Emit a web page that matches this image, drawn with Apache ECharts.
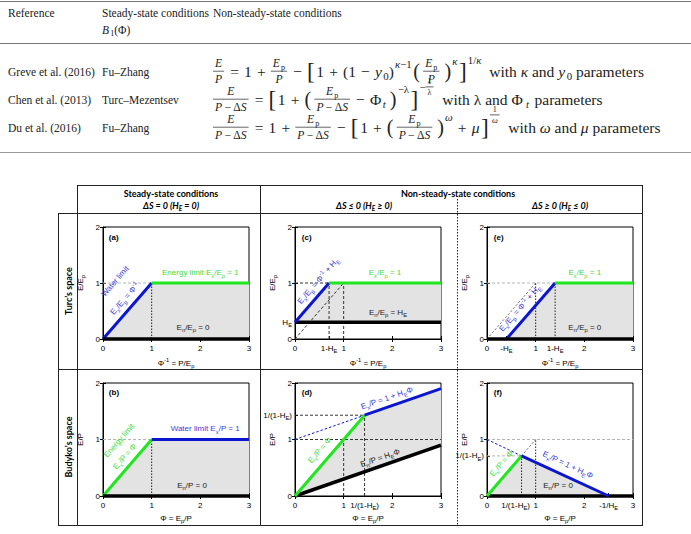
<!DOCTYPE html>
<html><head><meta charset="utf-8">
<script src="https://cdn.jsdelivr.net/npm/echarts@6/dist/echarts.min.js"></script>
<style>html,body{margin:0;padding:0;background:#fff}#c{width:691px;height:534px}</style>
</head><body><div id="c"></div>
<script>
// ================= DATA =================
const tableHeaders = ['Reference', 'Steady-state conditions', 'Non-steady-state conditions'];
const tableRefs = ['Greve et al. (2016)', 'Chen et al. (2013)', 'Du et al. (2016)'];
const tableSteady = ['Fu–Zhang', 'Turc–Mezentsev', 'Fu–Zhang'];
const colHeaders = ['Steady-state conditions', 'Non-steady-state conditions'];
const subHeaders = ['ΔS = 0 (H_E = 0)', 'ΔS ≤ 0 (H_E ≥ 0)', 'ΔS ≥ 0 (H_E ≤ 0)'];
const rowLabels = ['Turc’s space', 'Budyko’s space'];

// panel (a)  Turc space, steady state
const aFill = [[0,0],[1,1],[3,1],[3,0]];
const aWater = [[0,0],[1,1]];
const aEnergy = [[1,1],[3,1]];
const aNone = [[0,0],[3,0]];
const aGuideH = [[0,1],[1,1]];
const aGuideV = [[1,0],[1,1]];
const aXTicks = [0,1,2,3];     const aXLabels = ['0','1','2','3'];
const aYTicks = [0,1,2];       const aYLabels = ['0','1','2'];

// panel (c)  Turc space, HE >= 0 (HE = 0.3)
const cFill = [[0,0.3],[0.7,1],[3,1],[3,0.3]];
const cWater = [[0,0.3],[0.7,1]];
const cEnergy = [[0.7,1],[3,1]];
const cNone = [[0,0.3],[3,0.3]];
const cDiag = [[0,0],[1,1]];
const cGuideH = [[0,1],[0.7,1]];
const cGuideV1 = [[0.7,0],[0.7,1]];
const cGuideV2 = [[1,0],[1,1]];
const cXTicks = [0,0.7,1,2,3]; const cXLabels = ['0','1-H_E','1','2','3'];
const cYTicks = [0,0.3,1,2];   const cYLabels = ['0','H_E','1','2'];

// panel (e)  Turc space, HE <= 0 (HE = -0.4)
const eFill = [[0.4,0],[1.4,1],[3,1],[3,0]];
const eWater = [[0.4,0],[1.4,1]];
const eEnergy = [[1.4,1],[3,1]];
const eNone = [[0,0],[3,0]];
const eDiag = [[0,0],[1,1]];
const eGuideH = [[0,1],[1.4,1]];
const eGuideV1 = [[1,0],[1,1]];
const eGuideV2 = [[1.4,0],[1.4,1]];
const eXTicks = [0,0.4,1,1.4,2,3]; const eXLabels = ['0','-H_E','1','1-H_E','2','3'];
const eYTicks = [0,1,2];       const eYLabels = ['0','1','2'];

// panel (b)  Budyko space, steady state
const bFill = [[0,0],[1,1],[3,1],[3,0]];
const bEnergy = [[0,0],[1,1]];
const bWater = [[1,1],[3,1]];
const bNone = [[0,0],[3,0]];
const bGuideH = [[0,1],[1,1]];
const bGuideV = [[1,0],[1,1]];
const bXTicks = [0,1,2,3];     const bXLabels = ['0','1','2','3'];
const bYTicks = [0,1,2];       const bYLabels = ['0','1','2'];

// panel (d)  Budyko space, HE >= 0 (HE = 0.3)
const dFill = [[0,0],[1.43,1.43],[3,1.9],[3,0.9]];
const dEnergy = [[0,0],[1.43,1.43]];
const dWater = [[1.43,1.43],[3,1.9]];
const dNone = [[0,0],[3,0.9]];
const dWaterExt = [[0,1],[1.43,1.43]];
const dGuideH1 = [[0,1.43],[1.43,1.43]];
const dGuideH2 = [[0,1],[3,1]];
const dGuideV1 = [[1,0],[1,1]];
const dGuideV2 = [[1.43,0],[1.43,1.43]];
const dXTicks = [0,1,1.43,2,3]; const dXLabels = ['0','1','1/(1-H_E)','2','3'];
const dYTicks = [0,1,1.43,2];   const dYLabels = ['0','1','1/(1-H_E)','2'];

// panel (f)  Budyko space, HE <= 0 (HE = -0.4)
const fFill = [[0,0],[0.71,0.71],[2.5,0]];
const fEnergy = [[0,0],[0.71,0.71]];
const fWater = [[0.71,0.71],[2.5,0]];
const fNone = [[0,0],[3,0]];
const fWaterExt = [[0,1],[0.71,0.71]];
const fDiag = [[0.71,0.71],[1,1]];
const fGuideH1 = [[0,1],[3,1]];
const fGuideH2 = [[0,0.71],[0.71,0.71]];
const fGuideV1 = [[0.71,0],[0.71,0.71]];
const fGuideV2 = [[1,0],[1,1]];
const fXTicks = [0,0.71,1,2,2.5,3]; const fXLabels = ['0','1/(1-H_E)','1','2','-1/H_E','3'];
const fYTicks = [0,0.71,1,2];       const fYLabels = ['0','1/(1-H_E)','1','2'];

// ================= STYLE / HELPERS =================
const SANS = '"Liberation Sans", Arial, sans-serif';
const SERIF = '"Liberation Serif", "Times New Roman", serif';
const LATO = 'Lato, "Liberation Sans", sans-serif';
const BLUE = '#0c16cf', GREEN = '#1fe61f', BLUE_T = '#3c3cd8', GREEN_T = '#3ddc3d', FILL = '#e3e3e3';
const TXT = '#222';

function mk(s){
  let out = '', i = 0, buf = '';
  const flush = () => { if (buf) { out += '{n|' + buf + '}'; buf = ''; } };
  while (i < s.length) {
    const c = s[i];
    if (c === '_' || c === '^') {
      flush();
      const tag = c === '_' ? 'b' : 'p';
      let g;
      if (s[i+1] === '{') { const j = s.indexOf('}', i+2); g = s.slice(i+2, j); i = j+1; }
      else { g = s[i+1]; i += 2; }
      out += '{' + tag + '|' + g + '}';
    } else { buf += c; i++; }
  }
  flush();
  return out;
}
function richSet(fs, col, extra, fam){
  extra = extra || {}; fam = fam || SANS;
  const lh = Math.round(fs*1.45), sfs = Math.round(fs*0.72*10)/10;
  return {
    n: Object.assign({fontSize: fs, lineHeight: lh, color: col, fontFamily: fam}, extra),
    b: Object.assign({fontSize: sfs, lineHeight: sfs, verticalAlign: 'bottom', color: col, fontFamily: fam}, extra),
    p: Object.assign({fontSize: sfs, lineHeight: sfs, verticalAlign: 'top', color: col, fontFamily: fam}, extra),
    sp: {width: 12, height: 1}
  };
}
function lab(ticks, labels, v){
  for (let k = 0; k < ticks.length; k++) if (Math.abs(ticks[k]-v) < 1e-6) return labels[k];
  return '';
}

const LS = {
  blue:  {color: BLUE, width: 3},
  green: {color: GREEN, width: 3},
  black: {color: '#000', width: 3.5},
  dotK:  {color: '#222', width: 1, type: [1.5, 1.5]},
  dashK: {color: '#333', width: 1, type: [3, 2]},
  dashL: {color: '#b5b5b5', width: 1, type: [3, 2]},
  dashB: {color: BLUE, width: 1, type: [2.5, 2]},
  dotG:  {color: '#666', width: 1, type: [2, 2]}
};

const GW = 146;
const panels = [
  {grid: [103, 227, GW, 112], xT: aXTicks, xL: aXLabels, yT: aYTicks, yL: aYLabels,
   xName: 'Φ^{-1} = P/E_p', yName: 'E/E_p', fill: aFill,
   lines: [[aGuideH,'dashL'],[aGuideV,'dotK'],[aWater,'blue'],[aEnergy,'green'],[aNone,'black']],
   ann: [{x:0.12,y:1.82,t:'(a)',c:'#000',al:'left',bold:true},
         {x:0.25,y:1.03,t:'Water limit',c:BLUE_T,r:49},
         {x:0.45,y:0.72,t:'E_x/E_p = Φ^{-1}',c:BLUE_T,r:49},
         {x:2.0,y:1.18,t:'Energy limit E_x/E_p = 1',c:GREEN_T},
         {x:1.85,y:0.21,t:'E_n/E_p = 0',c:TXT}]},
  {grid: [295, 227, GW, 112], xT: cXTicks, xL: cXLabels, yT: cYTicks, yL: cYLabels,
   xName: 'Φ^{-1} = P/E_p', yName: 'E/E_p', fill: cFill,
   lines: [[cDiag,'dashK'],[cGuideH,'dashK'],[cGuideV1,'dashK'],[cGuideV2,'dashK'],[cNone,'black'],[cWater,'blue'],[cEnergy,'green']],
   ann: [{x:0.14,y:1.82,t:'(c)',c:'#000',al:'left',bold:true},
         {x:0.48,y:1.04,t:'E_x/E_p = Φ^{-1} + H_E',c:BLUE_T,r:49},
         {x:1.85,y:1.18,t:'E_x/E_p = 1',c:GREEN_T},
         {x:1.91,y:0.48,t:'E_n/E_p = H_E',c:TXT}]},
  {grid: [487, 227, GW, 112], xT: eXTicks, xL: eXLabels, yT: eYTicks, yL: eYLabels,
   xName: 'Φ^{-1} = P/E_p', yName: 'E/E_p', fill: eFill,
   lines: [[eDiag,'dotG'],[eGuideH,'dashL'],[eGuideV1,'dotK'],[eGuideV2,'dotK'],[eWater,'blue'],[eEnergy,'green'],[eNone,'black']],
   ann: [{x:0.14,y:1.82,t:'(e)',c:'#000',al:'left',bold:true},
         {x:0.68,y:0.55,t:'E_x/E_p = Φ^{-1} + H_E',c:BLUE_T,r:49},
         {x:2.01,y:1.18,t:'E_x/E_p = 1',c:GREEN_T},
         {x:2.01,y:0.21,t:'E_n/E_p = 0',c:TXT}]},
  {grid: [103, 383, GW, 113], xT: bXTicks, xL: bXLabels, yT: bYTicks, yL: bYLabels,
   xName: 'Φ = E_p/P', yName: 'E/P', fill: bFill,
   lines: [[bGuideH,'dashL'],[bGuideV,'dotK'],[bEnergy,'green'],[bWater,'blue'],[bNone,'black']],
   ann: [{x:0.12,y:1.84,t:'(b)',c:'#000',al:'left',bold:true},
         {x:0.33,y:0.98,t:'Energy limit',c:GREEN_T,r:49},
         {x:0.45,y:0.70,t:'E_x/P = Φ',c:GREEN_T,r:49},
         {x:2.1,y:1.19,t:'Water limit E_x/P = 1',c:BLUE_T},
         {x:1.83,y:0.19,t:'E_n/P = 0',c:TXT}]},
  {grid: [295, 383, GW, 113], xT: dXTicks, xL: dXLabels, yT: dYTicks, yL: dYLabels,
   xName: 'Φ = E_p/P', yName: 'E/P', fill: dFill,
   lines: [[dGuideH1,'dashK'],[dGuideH2,'dashK'],[dGuideV1,'dashK'],[dGuideV2,'dashK'],[dWaterExt,'dashB'],[dNone,'black'],[dEnergy,'green'],[dWater,'blue']],
   ann: [{x:0.14,y:1.84,t:'(d)',c:'#000',al:'left',bold:true},
         {x:1.89,y:1.73,t:'E_x/P = 1 + H_EΦ',c:BLUE_T,r:19},
         {x:0.51,y:0.81,t:'E_x/P = Φ',c:GREEN_T,r:49},
         {x:1.75,y:0.67,t:'E_n/P = H_EΦ',c:TXT,r:19}]},
  {grid: [487, 383, GW, 113], xT: fXTicks, xL: fXLabels, yT: fYTicks, yL: fYLabels, xPad: [0.71],
   xName: 'Φ = E_p/P', yName: 'E/P', fill: fFill,
   lines: [[fGuideH1,'dashL'],[fGuideH2,'dashL'],[fDiag,'dotG'],[fGuideV1,'dotK'],[fGuideV2,'dotK'],[fWaterExt,'dashB'],[fNone,'black'],[fEnergy,'green'],[fWater,'blue']],
   ann: [{x:0.14,y:1.84,t:'(f)',c:'#000',al:'left',bold:true},
         {x:0.30,y:0.575,t:'E_x/P = Φ',c:GREEN_T,r:49},
         {x:1.66,y:0.55,t:'E_x/P = 1 + H_EΦ',c:BLUE_T,r:-25},
         {x:1.46,y:0.19,t:'E_n/P = 0',c:TXT}]}
];

// ================= BUILD CHART =================
const grid = [], xAxis = [], yAxis = [], series = [];
panels.forEach((P, i) => {
  const [l, t, w, h] = P.grid;
  grid.push({left: l, top: t, width: w, height: h, show: true, borderColor: '#000', borderWidth: 1,
    backgroundColor: 'transparent', containLabel: false, outerBoundsMode: 'none'});
  const bottomRow = t > 300;
  const rs = richSet(8, '#000');
  const pads = P.xPad || [];
  xAxis.push({gridIndex: i, type: 'value', min: 0, max: 3, interval: 1, position: 'bottom',
    name: mk(P.xName), nameLocation: 'middle', nameGap: bottomRow ? 16 : 18, nameMoveOverlap: false,
    nameTextStyle: {fontSize: 8, fontFamily: SANS, color: '#000', rich: rs},
    axisLine: {show: true, onZero: false, lineStyle: {color: '#000', width: 1}},
    axisTick: {show: true, inside: true, length: 3, customValues: P.xT, lineStyle: {color: '#000'}},
    axisLabel: {show: true, customValues: P.xT,
      formatter: v => mk(lab(P.xT, P.xL, v)) + (pads.some(q => Math.abs(q - v) < 1e-6) ? '{sp|}' : ''),
      margin: 3, fontSize: 8, color: '#000', fontFamily: SANS, rich: rs, hideOverlap: false},
    splitLine: {show: false}});
  xAxis.push({gridIndex: i, type: 'value', min: 0, max: 3, interval: 1, position: 'top',
    axisLine: {show: false}, axisTick: {show: true, inside: true, length: 3, lineStyle: {color: '#000'}},
    axisLabel: {show: false}, splitLine: {show: false}});
  yAxis.push({gridIndex: i, type: 'value', min: 0, max: 2, interval: 1, position: 'left',
    name: mk(P.yName), nameLocation: 'middle', nameGap: 17, nameRotate: 90, nameMoveOverlap: false,
    nameTextStyle: {fontSize: 8, fontFamily: SANS, color: '#000', rich: rs},
    axisLine: {show: true, onZero: false, lineStyle: {color: '#000', width: 1}},
    axisTick: {show: true, inside: true, length: 3, customValues: P.yT, lineStyle: {color: '#000'}},
    axisLabel: {show: true, customValues: P.yT, formatter: v => mk(lab(P.yT, P.yL, v)), margin: 3,
      fontSize: 8, color: '#000', fontFamily: SANS, rich: rs, hideOverlap: false},
    splitLine: {show: false}});
  yAxis.push({gridIndex: i, type: 'value', min: 0, max: 2, interval: 1, position: 'right',
    axisLine: {show: false}, axisTick: {show: true, inside: true, length: 3, lineStyle: {color: '#000'}},
    axisLabel: {show: false}, splitLine: {show: false}});
  const ax = 2*i;
  const poly = P.fill;
  series.push({type: 'custom', xAxisIndex: ax, yAxisIndex: ax, silent: true, animation: false, z: 1,
    data: [poly[0]],
    renderItem: (p, api) => ({type: 'polygon', shape: {points: poly.map(q => api.coord(q))},
      style: {fill: FILL}})});
  P.lines.forEach(([d, s]) => {
    const st = LS[s];
    series.push({type: 'line', xAxisIndex: ax, yAxisIndex: ax, data: d, symbol: 'none', showSymbol: false,
      clip: false, silent: true, animation: false, z: (s === 'blue' || s === 'green' || s === 'black') ? 4 : 3,
      lineStyle: {color: st.color, width: st.width, type: st.type || 'solid', cap: 'butt'}});
  });
  const anns = P.ann;
  series.push({type: 'custom', xAxisIndex: ax, yAxisIndex: ax, silent: true, animation: false, z: 10, clip: false,
    data: anns.map(a => [a.x, a.y]),
    renderItem: (p, api) => {
      const a = anns[p.dataIndex];
      const pt = api.coord([a.x, a.y]);
      const fw = a.bold ? 'bold' : 'normal';
      return {type: 'text', x: pt[0], y: pt[1], rotation: (a.r || 0) * Math.PI / 180,
        style: {text: mk(a.t), rich: richSet(8, a.c, {fontWeight: fw}), fill: a.c,
          font: fw + ' 8px ' + SANS, align: a.al || 'center', verticalAlign: 'middle'}};
    }});
});

// ================= TABLE (formula layout) =================
const FS = 11.5;    // plain table text
const FM = 15.5;    // formula rows
const measCtx = document.createElement('canvas').getContext('2d');
function tw(s, font){ measCtx.font = font; return measCtx.measureText(s).width; }
function T(s, o){ o = o || {}; return {k: 't', s: s, it: !!o.it, sz: o.sz || 1, dy: o.dy || 0}; }
function I(s, o){ o = o || {}; o.it = true; return T(s, o); }
function G(c, sz, dy){ return {k: 'g', c: c, sz: sz, dy: dy}; }
function SP(w){ return {k: 's', w: w}; }
function OP(s, w){ w = w == null ? 0.33 : w; return G([SP(w), T(s), SP(w)], 1, 0); }
function Sb(c){ return G([SP(0.14)].concat(c), 0.7, 0.32); }
function Sp(c, dy){ return G([SP(0.1)].concat(c), 0.7, dy == null ? -0.45 : dy); }
function Fr(n, d){ return {k: 'f', n: n, d: d}; }
function txt(x, y, s, font, align){
  return {type: 'text', x: x, y: y, silent: true,
    style: {text: s, font: font, fill: TXT, align: align || 'left', verticalAlign: 'middle',
            textAlign: align || 'left', textVerticalAlign: 'middle'}};
}
function place(toks, x, y, size, out){
  let cx = x;
  for (const t of toks) {
    if (t.k === 't') {
      const fs = size * t.sz;
      const font = (t.it ? 'italic ' : '') + fs.toFixed(2) + 'px ' + SERIF;
      const w = tw(t.s, font);
      if (out) out.push(txt(cx, y + t.dy * size, t.s, font));
      cx += w;
    } else if (t.k === 's') {
      cx += t.w * size;
    } else if (t.k === 'g') {
      cx += place(t.c, cx, y + t.dy * size, size * t.sz, out);
    } else if (t.k === 'f') {
      const s2 = size * 0.75;
      const wn = place(t.n, 0, 0, s2, null), wd = place(t.d, 0, 0, s2, null);
      const w = Math.max(wn, wd) + 4;
      if (out) {
        place(t.n, cx + (w - wn) / 2, y - 0.5 * size, s2, out);
        place(t.d, cx + (w - wd) / 2, y + 0.52 * size, s2, out);
        out.push({type: 'line', silent: true, shape: {x1: cx, y1: y - 0.02 * size, x2: cx + w, y2: y - 0.02 * size},
          style: {stroke: TXT, lineWidth: 0.7}});
      }
      cx += w + 1;
    }
  }
  return cx - x;
}
const Ep = [I('E'), Sb([T('p')])];
const PmS = [I('P'), OP('−', 0.2), T('Δ'), I('S')];
const LB = () => G([T('[', {sz: 1.5, dy: -0.03}), SP(0.1)], 1, 0);
const RB = () => G([SP(0.1), T(']', {sz: 1.5, dy: -0.03})], 1, 0);
const LP = () => G([T('(', {sz: 1.3, dy: -0.03}), SP(0.2)], 1, 0);
const RP = () => G([SP(0.26), T(')', {sz: 1.3, dy: -0.03})], 1, 0);
const formulas = [
  [Fr([I('E')], [I('P')]), OP('='), T('1'), OP('+'), Fr(Ep, [I('P')]), OP('−'), LB(), T('1'), OP('+'), T('(1'), OP('−'),
   I('y'), Sb([T('0')]), T(')'), Sp([I('κ'), T('−1')], -0.5), SP(0.1), LP(), Fr(Ep, [I('P')]), RP(), Sp([I('κ')], -0.7),
   RB(), Sp([T('1/'), I('κ')], -0.75), SP(0.5), T('with '), I('κ'), T(' and '), I('y'), Sb([T('0')]), T(' parameters')],
  [Fr([I('E')], PmS), OP('='), LB(), T('1'), OP('+'), LP(), Fr(Ep, PmS), OP('−'), T('Φ'), Sb([I('t')]),
   RP(), Sp([T('−λ')], -0.7), RB(), Sp([T('−'), Fr([T('1')], [T('λ')])], -0.8),
   SP(0.5), T('with λ and Φ'), SP(0.12), Sb([I('t')]), SP(0.1), T(' parameters')],
  [Fr([I('E')], PmS), OP('='), T('1'), OP('+'), Fr(Ep, PmS), OP('−'), LB(), T('1'), OP('+'), LP(), Fr(Ep, PmS),
   RP(), Sp([I('ω')], -0.7), OP('+'), I('μ'), RB(), Sp([Fr([T('1')], [I('ω')])], -0.8),
   SP(0.5), T('with '), I('ω'), T(' and '), I('μ'), T(' parameters')]
];

const G_EL = [];
const FT = FS + 'px ' + SERIF;
[[1.5, '#777', 1.2], [43.5, '#777', 1], [152.5, '#999', 1]].forEach(([y, c, w]) =>
  G_EL.push({type: 'line', silent: true, shape: {x1: 0, y1: y, x2: 691, y2: y}, style: {stroke: c, lineWidth: w}}));
G_EL.push(txt(8, 13, tableHeaders[0], FT));
G_EL.push(txt(102, 13, tableHeaders[1], FT));
G_EL.push(txt(213, 13, tableHeaders[2], FT));
place([I('B'), Sb([T('1')]), T('(Φ)')], 102, 30, FS, G_EL);
const rowY = [71.5, 99.5, 127.5];
rowY.forEach((y, r) => {
  G_EL.push(txt(8, y, tableRefs[r], FT));
  G_EL.push(txt(102, y, tableSteady[r], FT));
  place(formulas[r], 213, y, FM, G_EL);
});

// figure frame
const K = '#222';
function L(x1, y1, x2, y2, dash){
  G_EL.push({type: 'line', silent: true, shape: {x1, y1, x2, y2},
    style: {stroke: K, lineWidth: 1, lineDash: dash || null}});
}
L(77, 185.5, 643, 185.5);
L(58, 213.5, 643, 213.5);
L(58, 369.5, 643, 369.5);
L(58, 525.5, 643, 525.5);
L(77.5, 185, 77.5, 526);
L(58.5, 213, 58.5, 526);
L(260.5, 185, 260.5, 526);
L(642.5, 185, 642.5, 526);
L(457.5, 199, 457.5, 526, [1.5, 1.5]);

const hdrRich = richSet(9, '#000', {fontWeight: 'bold'}, LATO);
const subRich = richSet(9, '#000', {fontWeight: 'bold', fontStyle: 'italic'}, LATO);
function htxt(x, y, s, rich, rot){
  G_EL.push({type: 'text', x: x, y: y, rotation: rot || 0, silent: true,
    style: {text: mk(s), rich: rich, align: 'center', verticalAlign: 'middle', textAlign: 'center', textVerticalAlign: 'middle',
      font: 'bold 9px ' + LATO, fill: '#000'}});
}
htxt(171, 193, colHeaders[0], hdrRich);
htxt(458, 193, colHeaders[1], hdrRich);
htxt(171, 205, subHeaders[0], subRich);
htxt(364, 205, subHeaders[1], subRich);
htxt(560, 205, subHeaders[2], subRich);
htxt(68, 291, rowLabels[0], hdrRich, Math.PI / 2);
htxt(68, 447, rowLabels[1], hdrRich, Math.PI / 2);

const chart = echarts.init(document.getElementById('c'), null, {renderer: 'svg', width: 691, height: 534});
chart.setOption({
  animation: false,
  backgroundColor: '#fff',
  textStyle: {fontFamily: SANS},
  grid: grid, xAxis: xAxis, yAxis: yAxis, series: series,
  graphic: {elements: G_EL}
});
</script>
</body></html>
